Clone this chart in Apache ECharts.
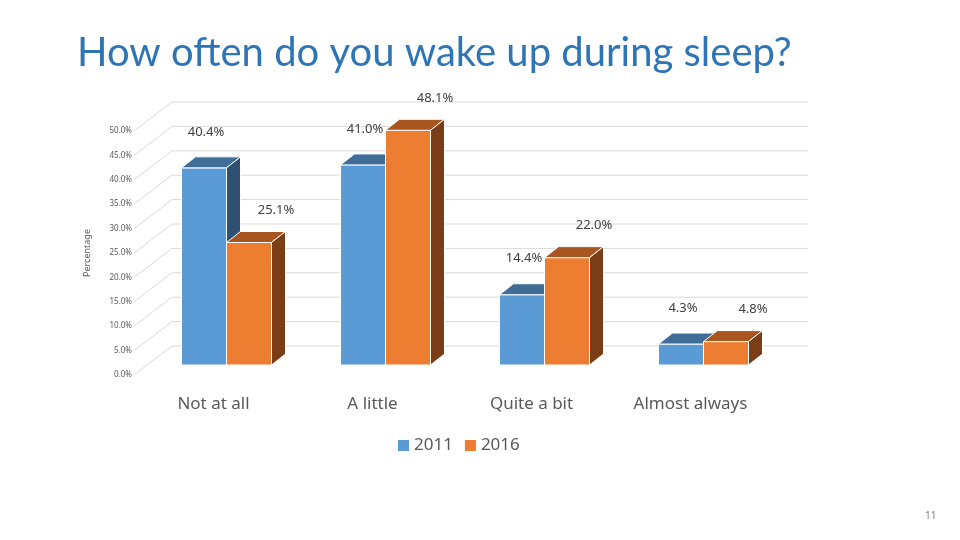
<!DOCTYPE html>
<html>
<head>
<meta charset="utf-8">
<script src="https://cdn.jsdelivr.net/npm/echarts@6/dist/echarts.min.js"></script>
<style>
    html, body { margin: 0; background: #fff; }
    #chart { width: 960px; height: 540px; }
</style>
</head>
<body>
<div id="chart"></div>
<script>
var categories = ['Not at all', 'A little', 'Quite a bit', 'Almost always'];
var years = ['2011', '2016'];
var values2011 = [40.4, 41.0, 14.4, 4.3];
var values2016 = [25.1, 48.1, 22.0, 4.8];
var yTicks = [0, 5, 10, 15, 20, 25, 30, 35, 40, 45, 50];

// face colours for the fake 3d bars
var faceColors = [
    { front: '#5b9bd5', top: '#3f6d98', side: '#2f5072' },
    { front: '#ed7d31', top: '#a8551f', side: '#7a3d15' }
];

// offsets of the planes from the front (axis) plane
var wallDx = 38, wallDy = -29;
var barDx = 13, barDy = -10;
var depthDx = 14, depthDy = -11;
var barW = 45;
var gridCol = '#d9d9d9';

var _renderWall = function (params, api) {
    var cs = params.coordSys;
    var p = api.coord([0, api.value(1)]);
    var x0 = cs.x;
    var y = p[1];
    return {
        type: 'group',
        children: [
            { type: 'line', shape: { x1: x0, y1: y, x2: x0 + wallDx, y2: y + wallDy }, style: { stroke: gridCol, lineWidth: 1 } },
            { type: 'line', shape: { x1: x0 + wallDx, y1: y + wallDy, x2: x0 + cs.width + wallDx, y2: y + wallDy }, style: { stroke: gridCol, lineWidth: 1 } }
        ]
    };
};

var _makeBar = function (s) {
    var c = faceColors[s];
    return function (params, api) {
        var idx = api.value(0);
        var val = api.value(1);
        var top = api.coord([idx, val]);
        var base = api.coord([idx, 0]);
        var x0 = top[0] + barDx + (s === 0 ? -barW : 0);
        var x1 = x0 + barW;
        var yT = top[1] + barDy;
        var yB = base[1] + barDy;
        var lx = s === 0 ? (x0 + barW / 2 + 2) : (x0 + barW / 2 + 27);
        var ly = s === 0 ? (yT - 36) : (yT - 32);
        return {
            type: 'group',
            children: [
                { type: 'rect', shape: { x: x0, y: yT, width: barW, height: yB - yT }, style: { fill: c.front, stroke: '#fff', lineWidth: 1 } },
                { type: 'polygon', shape: { points: [[x0, yT], [x1, yT], [x1 + depthDx, yT + depthDy], [x0 + depthDx, yT + depthDy]] }, style: { fill: c.top, stroke: '#fff', lineWidth: 1 } },
                { type: 'polygon', shape: { points: [[x1, yT], [x1 + depthDx, yT + depthDy], [x1 + depthDx, yB + depthDy], [x1, yB]] }, style: { fill: c.side, stroke: '#fff', lineWidth: 1 } },
                { type: 'text', x: lx, y: ly, style: { text: val.toFixed(1) + '%', fill: '#404040', fontSize: 13, fontFamily: 'Noto Sans', align: 'center', verticalAlign: 'middle' } }
            ]
        };
    };
};

var dom = document.getElementById('chart');
var chart = echarts.init(dom, null, { renderer: 'canvas' });

var option = {
    animation: false,
    color: [faceColors[0].front, faceColors[1].front],
    title: {
        text: 'How often do you wake up during sleep?',
        left: 72,
        top: 28,
        textStyle: { fontFamily: 'Lato', fontSize: 40, fontWeight: 'normal', color: '#2e75b6' }
    },
    legend: {
        data: years,
        left: 393,
        top: 432,
        icon: 'rect',
        itemWidth: 11,
        itemHeight: 11,
        itemGap: 12,
        textStyle: { fontFamily: 'Noto Sans', fontSize: 17, color: '#595959' }
    },
    grid: { left: 134, top: 131, width: 636, height: 244 },
    xAxis: {
        type: 'category',
        data: categories,
        axisLine: { show: false },
        axisTick: { show: false },
        axisLabel: { fontFamily: 'Noto Sans', fontSize: 17, color: '#595959', margin: 21 }
    },
    yAxis: {
        type: 'value',
        min: 0,
        max: 50,
        interval: 5,
        name: 'Percentage',
        nameLocation: 'middle',
        nameRotate: 90,
        nameGap: 42,
        nameTextStyle: { fontFamily: 'Noto Sans', fontSize: 9, color: '#595959' },
        splitLine: { show: false },
        axisLine: { show: false },
        axisTick: { show: false },
        axisLabel: {
            fontFamily: 'Noto Sans', fontSize: 8, color: '#595959', margin: 2,
            formatter: function (v) { return v.toFixed(1) + '%'; }
        }
    },
    graphic: [
        { type: 'text', left: 925, top: 511, style: { text: '11', fontFamily: 'Noto Sans', fontSize: 10, fill: '#7f7f7f' } }
    ],
    series: [
        {
            type: 'custom',
            silent: true,
            z: 1,
            renderItem: _renderWall,
            data: yTicks.map(function (v) { return [0, v]; })
        },
        {
            name: years[0],
            type: 'custom',
            z: 2,
            itemStyle: { color: faceColors[0].front },
            renderItem: _makeBar(0),
            data: values2011.map(function (v, i) { return [i, v]; })
        },
        {
            name: years[1],
            type: 'custom',
            z: 3,
            itemStyle: { color: faceColors[1].front },
            renderItem: _makeBar(1),
            data: values2016.map(function (v, i) { return [i, v]; })
        }
    ]
};

chart.setOption(option);
window.addEventListener('resize', chart.resize);
</script>
</body>
</html>
